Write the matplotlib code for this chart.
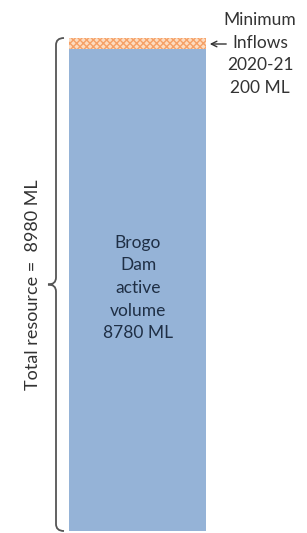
import numpy as np
import matplotlib
matplotlib.use("Agg")
import matplotlib.pyplot as plt
from matplotlib.path import Path
from matplotlib.patches import PathPatch

# Data
segments = ["Brogo Dam active volume", "Minimum Inflows 2020-21"]
volumes_ml = [8780, 200]
total_ml = sum(volumes_ml)

bar_label = "Brogo\nDam\nactive\nvolume\n%d ML" % volumes_ml[0]
inflow_label = "Minimum\nInflows\n2020-21\n%d ML" % volumes_ml[1]
total_label = "Total resource =  %d ML" % total_ml

plt.rcParams['font.family'] = ['Lato', 'DejaVu Sans']
plt.rcParams['hatch.linewidth'] = 1.0

W, H = 307, 533
fig = plt.figure(figsize=(W / 100, H / 100), dpi=100)
ax = fig.add_axes([0, 0, 1, 1])

# pixel layout: bar top at 38 px, bottom at 531 px
top_px, bot_px = 38, 531
ml_per_px = total_ml / (bot_px - top_px)
ax.set_xlim(0, W)
ax.set_ylim(-(H - bot_px) * ml_per_px, total_ml + top_px * ml_per_px)
ax.axis("off")


def y_of(px):
    # pixel row (from top) -> data value
    return total_ml - (px - top_px) * ml_per_px


# stacked bar
ax.bar(137.5, volumes_ml[0], width=137, color="#95b3d7", linewidth=0)
ax.bar(137.5, volumes_ml[1], width=137, bottom=volumes_ml[0],
       facecolor="#fddcc0", edgecolor="#f5a066", hatch="xxxxx", linewidth=0)

# curly brace on the left
r = 7 * ml_per_px
x_line, x_end, x_tip = 56, 64, 48
mid = total_ml / 2
verts = [
    (x_end, total_ml), (x_line, total_ml), (x_line, total_ml - r),
    (x_line, mid + r),
    (x_line, mid), (x_tip, mid),
    (x_line, mid), (x_line, mid - r),
    (x_line, r),
    (x_line, 0), (x_end, 0),
]
codes = [Path.MOVETO, Path.CURVE3, Path.CURVE3,
         Path.LINETO,
         Path.CURVE3, Path.CURVE3,
         Path.CURVE3, Path.CURVE3,
         Path.LINETO,
         Path.CURVE3, Path.CURVE3]
ax.add_patch(PathPatch(Path(verts, codes), facecolor="none",
                       edgecolor="#555555", linewidth=1.3))

ax.text(33, mid, total_label, rotation=90, ha="center", va="center",
        fontsize=13, color="#333333")

ax.text(138, y_of(288), bar_label, ha="center", va="center",
        fontsize=12.5, color="#1f2f45", linespacing=1.5)

ax.text(260, y_of(54), inflow_label, ha="center", va="center",
        fontsize=12.5, color="#333333", linespacing=1.5)

ax.annotate("", xy=(207, y_of(44)), xytext=(229, y_of(44)),
            arrowprops=dict(arrowstyle="->", color="#333333", lw=1.0))

fig.savefig("out.png", dpi=100, facecolor="white")
